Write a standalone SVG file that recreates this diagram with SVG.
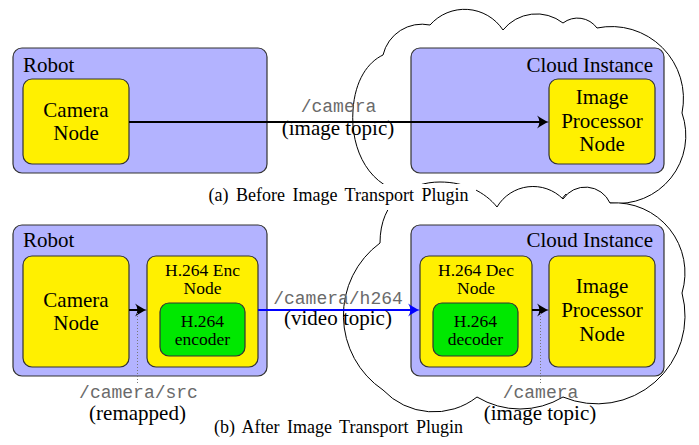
<svg xmlns="http://www.w3.org/2000/svg" width="699" height="445" viewBox="0 0 699 445">
  <style>
    .bg { fill: #ffffff; }
    .cloud { fill: #ffffff; stroke: #000000; stroke-width: 1; stroke-linejoin: miter; }
    .host { fill: #b3b3ff; stroke: #333333; stroke-width: 1.2; }
    .node { fill: #fff000; stroke: #333333; stroke-width: 1.2; }
    .codec { fill: #00e800; stroke: #333333; stroke-width: 1.2; }
    .t { font-family: "Liberation Serif", "Times New Roman", serif; font-size: 21px; fill: #000000; }
    .s { font-size: 17.5px; }
    .c { text-anchor: middle; }
    .r { text-anchor: end; }
    .m { font-family: "Liberation Mono", "Courier New", monospace; font-size: 18px; fill: #6a6a6a; text-anchor: middle; }
    .cap { font-family: "Liberation Serif", "Times New Roman", serif; font-size: 18px; fill: #000000; text-anchor: middle; word-spacing: 3px; }
    .wire { stroke: #000000; stroke-width: 2; fill: none; }
    .video { stroke: #0000ff; stroke-width: 2; fill: none; }
    .tap { stroke: #777777; stroke-width: 1; stroke-dasharray: 1 2; fill: none; }
  </style>
  <defs>
    <marker id="head" viewBox="-9 -7 14 14" refX="0" refY="0" markerWidth="14" markerHeight="14" markerUnits="userSpaceOnUse" orient="auto">
      <path d="M4,0 C0,-1 -4,-4 -8,-6.5 C-5,-3 -5,3 -8,6.5 C-4,4 0,1 4,0 Z" fill="#000000"/>
    </marker>
    <marker id="headBlue" viewBox="-9 -7 14 14" refX="0" refY="0" markerWidth="14" markerHeight="14" markerUnits="userSpaceOnUse" orient="auto">
      <path d="M4,0 C0,-1 -4,-4 -8,-6.5 C-5,-3 -5,3 -8,6.5 C-4,4 0,1 4,0 Z" fill="#0000ff"/>
    </marker>
  </defs>

  <rect class="bg" x="0" y="0" width="699" height="445"/>

  <!-- cloud outlines: the lower one is painted over the upper one -->
  <g id="clouds">
    <path id="cloud-a" class="cloud" d="M383,55 A40,40 0 0 1 430,25 A46,46 0 0 1 503,30 A43,43 0 0 1 563,23 A24,24 0 0 1 597,28 A72,72 0 0 1 682,113 A68,68 0 0 1 610,203 A30,30 0 0 1 566,194 A60,60 0 0 1 480,203 A55,55 0 0 1 410,193 C370,190 350,150 353,110 C355,80 368,62 383,55 Z"/>
    <path id="cloud-b" class="cloud" d="M380,243 C380,200 410,182 440,182 C465,182 485,192 497,207 A42,42 0 0 1 563,199 A27,27 0 0 1 610,203 A70,70 0 0 1 682,293 A88,88 0 0 1 563,397 A83,83 0 0 1 477,397 A70,70 0 0 1 383,390 A90,90 0 0 1 380,243 Z"/>
  </g>

  <!-- (a) direct image topic -->
  <g id="robot-a">
    <rect class="host" x="13" y="48" width="254" height="125" rx="9"/>
    <text class="t" x="23" y="72">Robot</text>
  </g>
  <g id="camera-a">
    <rect class="node" x="23" y="79" width="106" height="85" rx="9"/>
    <text class="t c" x="76" y="117">Camera</text>
    <text class="t c" x="76" y="140">Node</text>
  </g>
  <g id="cloud-instance-a">
    <rect class="host" x="411" y="48" width="253" height="125" rx="9"/>
    <text class="t r" x="653" y="72">Cloud Instance</text>
  </g>
  <g id="processor-a">
    <rect class="node" x="549" y="79" width="106" height="85" rx="9"/>
    <text class="t c" x="602" y="104">Image</text>
    <text class="t c" x="602" y="128">Processor</text>
    <text class="t c" x="602" y="151">Node</text>
  </g>

  <!-- (b) H.264 transport -->
  <g id="robot-b">
    <rect class="host" x="13" y="225" width="254" height="151" rx="9"/>
    <text class="t" x="23" y="247">Robot</text>
  </g>
  <g id="camera-b">
    <rect class="node" x="23" y="256" width="106" height="111" rx="9"/>
    <text class="t c" x="76" y="307">Camera</text>
    <text class="t c" x="76" y="330">Node</text>
  </g>
  <g id="encoder-node">
    <rect class="node" x="147" y="256" width="111" height="111" rx="9"/>
    <text class="t s c" x="202.5" y="275.5">H.264 Enc</text>
    <text class="t s c" x="202.5" y="293.5">Node</text>
  </g>
  <g id="encoder">
    <rect class="codec" x="160" y="303" width="85" height="53" rx="9"/>
    <text class="t s c" x="202.5" y="326.5">H.264</text>
    <text class="t s c" x="202.5" y="344.5">encoder</text>
  </g>
  <g id="cloud-instance-b">
    <rect class="host" x="411" y="225" width="253" height="151" rx="9"/>
    <text class="t r" x="653" y="247">Cloud Instance</text>
  </g>
  <g id="decoder-node">
    <rect class="node" x="420" y="256" width="112" height="111" rx="9"/>
    <text class="t s c" x="476" y="275.5">H.264 Dec</text>
    <text class="t s c" x="476" y="293.5">Node</text>
  </g>
  <g id="decoder">
    <rect class="codec" x="433" y="303" width="85" height="53" rx="9"/>
    <text class="t s c" x="475.5" y="326.5">H.264</text>
    <text class="t s c" x="475.5" y="344.5">decoder</text>
  </g>
  <g id="processor-b">
    <rect class="node" x="549" y="256" width="106" height="111" rx="9"/>
    <text class="t c" x="602" y="293">Image</text>
    <text class="t c" x="602" y="317">Processor</text>
    <text class="t c" x="602" y="341">Node</text>
  </g>

  <g id="connectors">
    <line class="wire" x1="129" y1="122" x2="545" y2="122" marker-end="url(#head)"/>
    <line class="wire" x1="129" y1="310" x2="143" y2="310" marker-end="url(#head)"/>
    <line class="video" x1="258" y1="310" x2="416" y2="310" marker-end="url(#headBlue)"/>
    <line class="wire" x1="532" y1="310" x2="545" y2="310" marker-end="url(#head)"/>
    <line class="tap" x1="137.5" y1="313" x2="137.5" y2="385"/>
    <line class="tap" x1="540.5" y1="313" x2="540.5" y2="385"/>
  </g>

  <g id="labels">
    <text class="m" x="338.5" y="112">/camera</text>
    <text class="t c" x="338" y="135">(image topic)</text>
    <text class="m" x="338" y="304">/camera/h264</text>
    <text class="t c" x="338" y="325">(video topic)</text>
    <text class="m" x="138.5" y="398">/camera/src</text>
    <text class="t c" x="137.5" y="420">(remapped)</text>
    <text class="m" x="540.5" y="398">/camera</text>
    <text class="t c" x="540" y="420">(image topic)</text>
  </g>

  <g id="captions">
    <rect class="bg" x="200" y="184" width="276" height="26"/>
    <text class="cap" x="338.5" y="201">(a) Before Image Transport Plugin</text>
    <text class="cap" x="338.5" y="433">(b) After Image Transport Plugin</text>
  </g>
</svg>
